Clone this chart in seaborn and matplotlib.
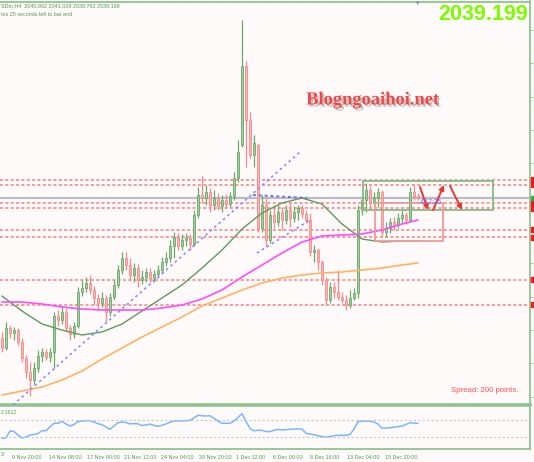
import matplotlib
matplotlib.use("Agg")
import matplotlib.pyplot as plt
import matplotlib.patheffects as pe
import matplotlib.transforms as mtransforms
from matplotlib.patches import Rectangle
import pandas as pd
import seaborn as sns

# ── XAUUSD H4 bars (one bar per ~4 px)
opens = [1955.2, 1949.2, 1961.2, 1958.2, 1960.0, 1952.8, 1943.2, 1934.8, 1930.0, 1937.2,
         1944.4, 1946.8, 1943.8, 1946.8, 1968.4, 1966.0, 1970.8, 1961.2, 1957.6, 1962.4,
         1982.8, 1985.2, 1988.2, 1984.0, 1979.2, 1976.2, 1979.2, 1970.8, 1979.8, 1987.0,
         1996.0, 2003.2, 1999.0, 1993.0, 1997.2, 1990.0, 1991.8, 1994.8, 1991.2, 1993.6,
         1996.0, 2000.8, 2003.2, 2010.4, 2015.8, 2010.4, 2014.0, 2015.2, 2011.6, 2029.0,
         2041.0, 2039.2, 2042.8, 2035.0, 2039.2, 2034.4, 2038.0, 2035.6, 2040.4, 2051.2,
         2071.0, 2118.4, 2086.0, 2065.0, 2071.0, 2021.2, 2035.0, 2014.0, 2029.0, 2024.8,
         2030.8, 2026.0, 2032.0, 2027.2, 2030.8, 2033.2, 2029.6, 2026.0, 2006.8, 2008.0,
         2000.8, 1990.0, 1978.0, 1985.8, 1982.8, 1979.8, 1978.0, 1975.0, 1979.2, 1982.2,
         2032.0, 2038.0, 2044.0, 2036.2, 2039.2, 2042.8, 2018.8, 2021.2, 2024.8, 2023.0,
         2027.2, 2029.0, 2026.0, 2042.8, 2040.4]
highs = [1958.8, 1964.8, 1963.0, 1961.8, 1961.2, 1955.2, 1945.0, 1940.8, 1940.8, 1948.0,
         1949.2, 1948.6, 1949.2, 1970.8, 1972.0, 1974.4, 1973.2, 1963.0, 1964.8, 1985.8,
         1990.0, 1991.8, 1993.0, 1986.4, 1981.6, 1982.8, 1981.0, 1982.2, 1990.0, 1999.0,
         2006.8, 2006.8, 2003.2, 2000.2, 1999.6, 1996.0, 1997.2, 1997.2, 1996.0, 1999.0,
         2003.8, 2006.8, 2014.0, 2018.8, 2018.2, 2017.6, 2018.2, 2017.6, 2032.0, 2045.8,
         2052.4, 2047.0, 2045.2, 2044.0, 2042.2, 2041.0, 2041.6, 2042.8, 2054.8, 2074.0,
         2146.0, 2121.4, 2090.8, 2077.0, 2072.2, 2041.0, 2039.2, 2032.0, 2035.0, 2035.0,
         2033.8, 2035.0, 2036.2, 2034.4, 2035.0, 2035.0, 2032.0, 2030.2, 2011.0, 2009.2,
         2002.0, 1991.8, 1988.8, 1988.8, 1996.0, 1982.8, 1981.0, 1984.0, 1985.2, 2035.0,
         2041.0, 2048.2, 2046.4, 2042.8, 2045.2, 2044.0, 2024.8, 2027.2, 2027.8, 2030.2,
         2032.0, 2030.8, 2045.8, 2047.0, 2042.2]
lows = [1946.8, 1948.0, 1955.2, 1954.0, 1951.0, 1940.8, 1931.2, 1920.4, 1927.6, 1934.8,
        1940.8, 1942.0, 1940.8, 1937.2, 1962.4, 1963.6, 1958.8, 1954.0, 1955.2, 1961.2,
        1980.4, 1982.8, 1981.6, 1975.0, 1972.0, 1973.8, 1964.8, 1968.4, 1978.0, 1985.2,
        1993.6, 1996.0, 1990.0, 1988.8, 1985.8, 1987.6, 1988.8, 1988.8, 1988.8, 1991.2,
        1993.6, 1998.4, 2000.8, 2003.2, 2008.0, 2008.0, 2010.4, 2008.0, 2010.4, 2027.2,
        2036.2, 2035.0, 2030.8, 2032.0, 2032.0, 2030.8, 2033.2, 2033.8, 2038.0, 2048.8,
        2069.8, 2057.8, 2063.2, 2057.8, 2018.8, 2018.8, 2009.8, 2012.2, 2021.2, 2022.4,
        2020.0, 2023.6, 2021.8, 2024.8, 2026.0, 2027.2, 2024.2, 2004.4, 2000.8, 1996.0,
        1987.0, 1975.0, 1976.2, 1979.2, 1978.0, 1976.2, 1972.0, 1973.2, 1978.0, 1979.2,
        2029.0, 2030.8, 2033.2, 2032.0, 2033.8, 2015.8, 2015.8, 2018.2, 2020.0, 2021.2,
        2024.2, 2023.6, 2024.8, 2038.0, 2038.0]
closes = [1949.2, 1961.2, 1958.2, 1960.0, 1952.8, 1943.2, 1934.8, 1930.0, 1937.2, 1944.4,
          1946.8, 1943.8, 1946.8, 1968.4, 1966.0, 1970.8, 1961.2, 1957.6, 1962.4, 1982.8,
          1985.2, 1988.2, 1984.0, 1979.2, 1976.2, 1979.2, 1970.8, 1979.8, 1987.0, 1996.0,
          2003.2, 1999.0, 1993.0, 1997.2, 1990.0, 1991.8, 1994.8, 1991.2, 1993.6, 1996.0,
          2000.8, 2003.2, 2010.4, 2015.8, 2010.4, 2014.0, 2015.2, 2011.6, 2029.0, 2041.0,
          2039.2, 2042.8, 2035.0, 2039.2, 2034.4, 2038.0, 2035.6, 2040.4, 2051.2, 2066.8,
          2118.4, 2086.0, 2065.0, 2072.2, 2021.2, 2035.0, 2014.0, 2029.0, 2024.8, 2030.8,
          2026.0, 2032.0, 2027.2, 2030.8, 2033.2, 2029.6, 2026.0, 2006.8, 2008.0, 2000.8,
          1990.0, 1978.0, 1985.8, 1982.8, 1979.8, 1978.0, 1975.0, 1979.2, 1982.2, 2032.0,
          2038.0, 2044.0, 2036.2, 2039.2, 2042.8, 2018.8, 2021.2, 2024.8, 2023.0, 2027.2,
          2029.0, 2026.0, 2042.8, 2040.4, 2039.2]

# ── moving averages, read every 5 bars
ma_bar = [0, 5, 10, 15, 20, 25, 30, 35, 40, 45, 50, 55, 60, 65, 70, 75, 80, 85, 90, 95, 100, 104]
ma_green = [1980.4, 1971.4, 1963.6, 1960.0, 1957.0, 1958.8, 1963.6, 1971.4, 1979.2, 1987.0, 1997.2,
            2008.0, 2020.6, 2030.2, 2036.2, 2039.2, 2035.6, 2023.6, 2014.6, 2012.8, 2013.4, 2013.4]
ma_magenta = [1976.8, 1976.8, 1975.6, 1973.8, 1972.6, 1972.0, 1972.0, 1972.0, 1973.2, 1975.0, 1978.6,
              1984.0, 1991.8, 1999.0, 2006.2, 2012.8, 2016.4, 2017.0, 2017.6, 2020.0, 2023.6, 2026.0]
ma_orange = [1921.0, 1923.4, 1925.8, 1930.0, 1935.4, 1942.6, 1949.2, 1955.8, 1961.8, 1967.8, 1974.4,
             1979.2, 1984.0, 1988.2, 1991.2, 1993.0, 1994.2, 1994.8, 1996.0, 1997.2, 1999.0, 2000.2]

# ── horizontal levels and current price
levels = [2050.0, 2047.3, 2035.9, 2032.9, 2020.0, 2015.5, 1990.0, 1975.0]
last_price = 2039.2

# ── oscillator in the lower window (one value per bar)
osc = [0.66, 0.69, 1.39, 1.34, 0.99, 0.69, 0.79, 0.99, 1.04, 1.14,
       1.42, 1.42, 1.79, 2.16, 2.16, 2.34, 2.09, 1.89, 2.04, 2.34,
       2.39, 2.42, 2.42, 2.29, 2.12, 2.02, 1.79, 1.56, 1.89, 2.22,
       2.29, 2.24, 2.09, 2.14, 2.11, 1.94, 1.99, 2.09, 1.94, 1.86,
       1.96, 2.09, 2.27, 2.39, 2.40, 2.41, 2.42, 2.46, 2.69, 2.97,
       2.91, 2.89, 2.92, 2.66, 2.39, 2.16, 2.16, 2.16, 2.39, 2.74,
       3.14, 2.34, 1.64, 1.41, 1.47, 1.45, 1.34, 1.32, 1.47, 1.55,
       1.50, 1.52, 1.56, 1.58, 1.60, 1.59, 1.16, 1.09, 1.01, 0.92,
       0.83, 0.77, 0.84, 0.92, 0.96, 0.96, 0.96, 1.05, 1.59, 2.33,
       2.36, 2.39, 2.36, 2.31, 2.09, 1.66, 1.69, 1.72, 1.77, 1.83,
       1.88, 2.04, 2.22, 2.18, 2.16]
osc_levels = [2.5, 0.8]

# ── time axis
tick_bars = [2.5, 11.75, 21.25, 30.5, 39.75, 49.25, 58.5, 67.75, 77, 86.25, 95.75]
tick_labels = ["9 Nov 20:00", "14 Nov 08:00", "17 Nov 00:00", "21 Nov 12:00", "24 Nov 04:00",
               "28 Nov 20:00", "1 Dec 12:00", "6 Dec 00:00", "8 Dec 16:00", "13 Dec 04:00",
               "15 Dec 20:00"]

# ── drawing objects on the chart
trend_main = ([2.75, 74.5], [1915.0, 2066.8])
trend_low = ([63.75, 77.0], [2006.2, 2026.0])
trend_flat = ([62.75, 76.25], [2041.0, 2039.2])
green_zone = (90.25, 122.75, 2032.0, 2049.4)
red_zone = (93.25, 110.25, 2013.4, 2036.2)
arrows = [((104.5, 2045.8), (106.5, 2032.0)),
          ((107.75, 2032.0), (110.5, 2047.0)),
          ((112.0, 2046.4), (115.0, 2032.0))]

bars = pd.DataFrame({"open": opens, "high": highs, "low": lows, "close": closes})
bars["bar"] = range(len(bars))
ma = pd.DataFrame({"bar": ma_bar, "green": ma_green, "magenta": ma_magenta, "orange": ma_orange})
osc_df = pd.DataFrame({"bar": range(len(osc)), "value": osc})

sns.set_style("white")
plt.rcParams["font.family"] = ["Liberation Sans", "DejaVu Sans"]

BG = "#fffafa"
FRAME = "#8fc48f"
TXT_GREEN = "#4f9e4f"
W, H = 534, 462


def fx(px):
    return px / W


def fy(py):
    return 1 - py / H


def py_to_price(py):
    return 2158 - 0.6 * py


fig = plt.figure(figsize=(5.34, 4.62), dpi=100, facecolor=BG)
ax = fig.add_axes([0, fy(405), fx(530), fy(1.5) - fy(405)], facecolor=BG)
ax_i = fig.add_axes([0, fy(449), fx(530), fy(408) - fy(449)], facecolor=BG, sharex=ax)

# ── candles
up = bars[bars.close >= bars.open]
dn = bars[bars.close < bars.open]
ax.vlines(up.bar, up.low, up.high, color="#6aa86a", lw=0.9, zorder=3)
ax.bar(up.bar, up.close - up.open, bottom=up.open, width=0.5, color="#9fd09f",
       edgecolor="#6aa86a", lw=0.6, zorder=3)
ax.vlines(dn.bar, dn.low, dn.high, color="#f48a8a", lw=0.9, zorder=3)
ax.bar(dn.bar, dn.close - dn.open, bottom=dn.open, width=0.5, color="#fbb4b4",
       edgecolor="#f48a8a", lw=0.6, zorder=3)

# ── moving averages
sns.lineplot(data=ma, x="bar", y="green", ax=ax, color="#5e9a5e", lw=1, zorder=4)
sns.lineplot(data=ma, x="bar", y="magenta", ax=ax, color="#ff4dff", lw=1.2, zorder=4)
sns.lineplot(data=ma, x="bar", y="orange", ax=ax, color="#ffb262", lw=1.2, zorder=4)

# ── levels
for lv in levels:
    ax.axhline(lv, color="#f48080", lw=1.1, ls=(0, (2, 1.5)), zorder=2)
ax.axhline(last_price, color="#b8bcc8", lw=1.6, zorder=2)

# ── trendlines
ax.plot(*trend_main, color="#8a8aff", lw=1.2, ls=(0, (1.5, 2)), zorder=5)
ax.plot(*trend_low, color="#8a8aff", lw=1.2, ls=(0, (1.5, 2)), zorder=5)
ax.plot(*trend_flat, color="#7070e0", lw=1.4, ls=(0, (1.5, 1.5)), zorder=5)

# ── zones and arrows
gx0, gx1, gy0, gy1 = green_zone
ax.add_patch(Rectangle((gx0, gy0), gx1 - gx0, gy1 - gy0, fill=False, ec="#86bb86", lw=1.3, zorder=5))
rx0, rx1, ry0, ry1 = red_zone
ax.add_patch(Rectangle((rx0, ry0), rx1 - rx0, ry1 - ry0, fill=False, ec="#f09a9a", lw=1.3, zorder=5))
for start, end in arrows:
    ax.annotate("", xy=end, xytext=start,
                arrowprops=dict(arrowstyle="-|>", color="#e53935", lw=1.4, mutation_scale=7,
                                shrinkA=0, shrinkB=0), zorder=6)

# ── price markers on the right scale
trans = mtransforms.blended_transform_factory(ax.transAxes, ax.transData)
for lv in levels:
    ax.add_patch(Rectangle((1.002, lv - 1.5), 0.02, 3.0, transform=trans, clip_on=False,
                           color="#ee1c1c", zorder=6))
ax.add_patch(Rectangle((1.002, last_price - 1.2), 0.02, 2.4, transform=trans, clip_on=False,
                       color="#3aa83a", zorder=7))

ax.set_xlim(-0.5, 132)
ax.set_ylim(py_to_price(405), py_to_price(1.5))
ax.set_xlabel("")
ax.set_ylabel("")
ax.tick_params(axis="x", which="both", bottom=False, labelbottom=False)
ax.yaxis.tick_right()
ax.set_yticks([2140, 2120, 2100, 2080, 2060, 2040, 2020, 2000, 1980, 1960, 1940, 1920])
ax.tick_params(axis="y", length=2, width=0.6, color=FRAME, labelright=False, pad=0)
for side in ["top", "right"]:
    ax.spines[side].set_color(FRAME)
    ax.spines[side].set_linewidth(1.3)
ax.spines["bottom"].set_color(FRAME)
ax.spines["bottom"].set_linewidth(2.6)
ax.spines["left"].set_visible(False)

# ── oscillator window
sns.lineplot(data=osc_df, x="bar", y="value", ax=ax_i, color="#7ab6ff", lw=1.1)
for lv in osc_levels:
    ax_i.axhline(lv, color="#c6c6c6", lw=0.8, ls=(0, (2, 2)))
ax_i.set_ylim(44.49 - 44.9, 44.49 - 40.8)
ax_i.set_xlabel("")
ax_i.set_ylabel("")
ax_i.set_yticks([])
ax_i.set_xticks(tick_bars)
ax_i.set_xticklabels(tick_labels)
ax_i.tick_params(axis="x", length=2.5, width=0.6, color=FRAME, labelsize=3.9,
                 labelcolor=TXT_GREEN, pad=1.5)
for lbl in ax_i.get_xticklabels():
    lbl.set_ha("left")
for side in ["bottom", "right"]:
    ax_i.spines[side].set_color(FRAME)
    ax_i.spines[side].set_linewidth(1.3)
ax_i.spines["top"].set_visible(False)
ax_i.spines["left"].set_visible(False)

# ── texts
fig.text(fx(1), fy(6), "SDm,H4  2040.862 2041.029 2038.763 2039.199", fontsize=3.9,
         color=TXT_GREEN, va="center", ha="left")
fig.text(fx(1), fy(14), "tes 25 seconds left to bar end", fontsize=3.9,
         color=TXT_GREEN, va="center", ha="left")
fig.text(fx(528), fy(14), "2039.199", fontsize=15.5, fontweight="bold", color="#7cfc00",
         va="center", ha="right")
fig.text(fx(373), fy(100), "Blogngoaihoi.net", fontsize=13.3, fontweight="bold",
         family="Liberation Serif", color="#ee4848", va="center", ha="center",
         path_effects=[pe.withSimplePatchShadow(offset=(1.5, -1.5), shadow_rgbFace="#888888", alpha=0.5)])
fig.text(fx(518), fy(390), "Spread: 200 points.", fontsize=5.6, color="#ff5050",
         va="center", ha="right")
fig.text(fx(1), fy(413), "2.1612", fontsize=3.9, color=TXT_GREEN, va="center", ha="left")
fig.text(fx(420), fy(203), "4.17:25", fontsize=4.8, color="#6b6bff", va="center", ha="left")
fig.text(fx(0.5), fy(455), "3", fontsize=3.9, color=TXT_GREEN, va="center", ha="left")
fig.text(fx(418), fy(3.5), "\u25bc", fontsize=4, color="#7a8a9a", va="center", ha="center")

fig.savefig("out.png", dpi=100, facecolor=BG)
plt.close(fig)
print("saved out.png")
